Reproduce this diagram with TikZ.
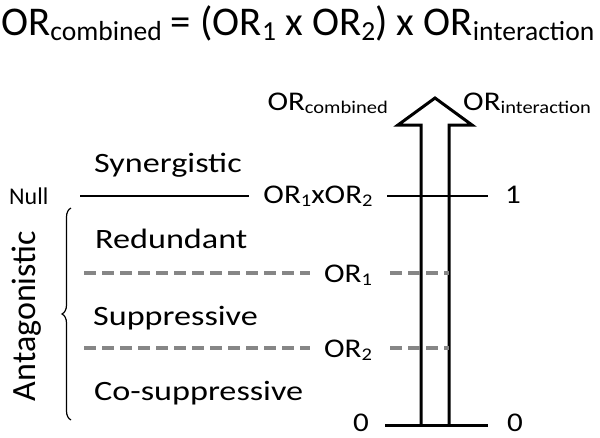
\documentclass[tikz,border=0pt]{standalone}
\usepackage{fontspec}
\setmainfont{Carlito}
\newfontfamily\widefont{Carlito}[FakeStretch=1.22]
\newfontfamily\axfont{Carlito}[FakeStretch=1.15]
\usetikzlibrary{decorations.pathreplacing}
\newcommand\sbs[1]{\raisebox{-0.14em}{\scalebox{0.66}{#1}}}
\newcommand\tsbs[1]{\raisebox{-0.14em}{\scalebox{0.675}{#1}}}
\begin{document}
\begin{tikzpicture}[x=1pt,y=-1pt,
  txt/.style={inner sep=0pt, anchor=base west},
  lbl/.style={txt, font=\widefont\fontsize{28}{30}\selectfont},
  axl/.style={inner sep=0pt, font=\axfont\fontsize{27}{30}\selectfont},
  gapl/.style={axl, fill=white, inner xsep=14pt, inner ysep=4pt},
  solidl/.style={line width=2pt, black},
  dashl/.style={line width=4pt, gray!95, dash pattern=on 12pt off 6pt},
  arr/.style={line width=3pt, black, fill=white, miter limit=10}]
\useasboundingbox (0,0) rectangle (600,437);

% title
\node[txt, font=\fontsize{40.8}{44}\selectfont] (title) at (1,35)
  {OR\tsbs{combined} = (OR\tsbs{1} x OR\tsbs{2}) x OR\tsbs{interaction}};

% arrow
\draw[arr] (421,425) -- (421,125) -- (398,125) -- (435,98) -- (472,125) -- (449,125) -- (449,425);
\node[axl, anchor=base east] (orc) at (388,110) {OR\sbs{combined}};
\node[axl, anchor=base west] (ori) at (463,110) {OR\sbs{interaction}};

% null line
\coordinate (nullA) at (80,196);
\coordinate (nullB) at (488,196);
\draw[solidl] (nullA) -- (nullB);
\node[gapl, anchor=base] (orx) at (318,203) {OR\sbs{1}xOR\sbs{2}};
\node[axl, anchor=base] (one) at (513,203) {1};
\node[txt, font=\fontsize{24}{26}\selectfont, anchor=base west] (null) at (9,204) {Null};

% dashed lines
\coordinate (d1A) at (84,273);
\coordinate (d1B) at (449,273);
\draw[dashl] (d1A) -- (d1B);
\node[gapl, anchor=base] (or1) at (348,282) {OR\sbs{1}};
\coordinate (d2A) at (84,348);
\coordinate (d2B) at (449,348);
\draw[dashl] (d2A) -- (d2B);
\node[gapl, anchor=base] (or2) at (348,357) {OR\sbs{2}};

% zero line
\coordinate (zA) at (385,425);
\coordinate (zB) at (488,425);
\draw[solidl, line width=3pt] (zA) -- (zB);
\node[axl, anchor=base] (z1) at (361,431) {0};
\node[axl, anchor=base] (z2) at (515,431) {0};

% region labels
\node[lbl] (syn) at (94,172) {Synergistic};
\node[lbl] (red) at (95,248) {Redundant};
\node[lbl] (sup) at (93,325) {Suppressive};
\node[lbl] (cos) at (94,400) {Co-suppressive};

% brace
\coordinate (brB) at (71,420);
\coordinate (brT) at (71,208);
\draw[line width=1.2pt, decorate, decoration={brace, amplitude=9pt}] (brB) -- (brT);
\node[inner sep=0pt, rotate=90, anchor=base, font=\fontsize{34}{36}\selectfont] (ant) at (35,316) {Antagonistic};
\end{tikzpicture}
\end{document}
